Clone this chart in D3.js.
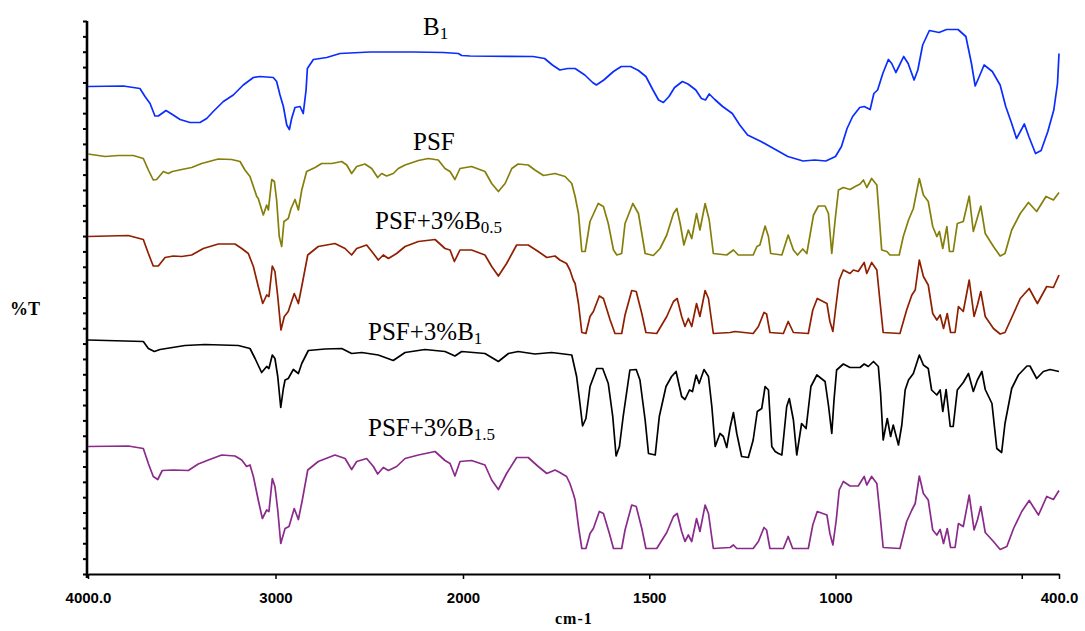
<!DOCTYPE html>
<html lang="en">
<head>
    <meta charset="UTF-8">
    <title>FTIR spectra</title>
    <script src="https://d3js.org/d3.v7.min.js"></script>
    <style>
        body {
            margin: 0;
            padding: 0;
            background-color: #ffffff;
        }

        svg {
            display: block;
        }

        .x-axis text {
            font-family: "Liberation Sans", Arial, sans-serif;
            font-size: 15px;
            font-weight: bold;
            fill: #000;
        }

        .series-label {
            font-family: "Liberation Serif", "Times New Roman", serif;
            font-size: 25px;
        }

        .axis-title {
            font-family: "Liberation Serif", "Times New Roman", serif;
            font-weight: bold;
            fill: #000;
        }
    </style>
</head>
<body>
    <div id="chart"></div>
    <script>
        // Wavenumber (cm-1) and %T values, one array per sample
        const b1Data = [[4000,97.5],[3812,97.6],[3723,97.1],[3696,95.5],[3669,94.1],[3643,91.6],[3625,91.6],[3584,92.7],[3554,92.0],[3509,90.9],[3456,90.3],[3403,90.3],[3367,91.1],[3332,92.5],[3278,94.5],[3225,95.8],[3172,97.8],[3118,99.3],[3083,99.5],[3012,99.3],[2994,98.5],[2976,95.8],[2958,93.5],[2940,89.8],[2926,88.9],[2914,91.1],[2896,93.3],[2869,93.5],[2852,92.1],[2837,96.8],[2830,101.1],[2798,102.9],[2727,103.3],[2656,104.1],[2496,104.4],[2265,104.4],[2105,104.3],[2025,104.1],[2007,103.7],[1981,103.6],[1812,103.5],[1781,103.1],[1760,101.8],[1740,100.8],[1719,101.1],[1699,101.1],[1673,99.8],[1652,98.3],[1642,97.8],[1622,98.8],[1596,100.5],[1575,101.5],[1550,101.5],[1529,100.7],[1509,99.5],[1490,96.8],[1475,94.8],[1462,94.3],[1447,95.5],[1432,97.3],[1411,98.5],[1396,98.0],[1375,96.8],[1360,95.1],[1349,94.8],[1339,96.0],[1324,94.9],[1303,93.5],[1277,92.1],[1257,89.8],[1236,87.8],[1200,86.5],[1159,84.8],[1128,83.5],[1087,82.6],[1056,82.8],[1026,82.6],[1000,83.5],[984,85.5],[969,89.1],[954,91.5],[935,93.3],[923,93.5],[907,92.9],[897,96.1],[887,96.8],[873,100.1],[858,102.9],[849,102.1],[838,100.3],[830,101.5],[817,103.5],[805,102.1],[789,98.8],[779,100.8],[766,105.8],[748,108.7],[722,108.3],[702,108.9],[671,108.9],[650,107.5],[635,102.1],[625,97.6],[614,99.5],[601,101.8],[579,100.5],[558,97.8],[543,93.5],[527,90.1],[514,87.1],[493,90.0],[481,87.5],[463,84.1],[448,84.7],[430,88.5],[414,92.8],[404,98.1],[400,104.1]];

        const psfData = [[4000,84.0],[3909,83.5],[3838,83.7],[3758,83.7],[3705,83.1],[3678,80.8],[3652,78.8],[3634,78.9],[3598,80.5],[3572,80.1],[3550,80.5],[3500,80.9],[3447,81.3],[3394,82.1],[3305,83.0],[3234,82.9],[3189,82.5],[3163,80.8],[3136,79.5],[3118,77.5],[3100,75.5],[3092,75.1],[3065,71.8],[3047,73.8],[3038,72.8],[3020,78.9],[3006,78.5],[2994,74.8],[2980,67.5],[2967,65.5],[2955,70.5],[2932,71.1],[2917,73.1],[2896,74.9],[2878,72.8],[2860,76.8],[2834,80.5],[2789,81.3],[2754,82.1],[2700,82.1],[2647,82.5],[2620,81.8],[2594,80.1],[2567,81.5],[2523,82.0],[2487,81.1],[2455,79.3],[2434,80.1],[2407,79.6],[2372,80.1],[2345,81.1],[2309,81.8],[2238,82.7],[2185,83.1],[2132,82.8],[2096,81.1],[2069,80.5],[2043,78.9],[2016,81.1],[1977,81.5],[1941,80.5],[1923,78.1],[1905,76.5],[1887,78.1],[1869,81.1],[1852,82.0],[1825,81.8],[1807,80.8],[1784,79.7],[1753,80.1],[1726,79.5],[1708,78.1],[1699,75.5],[1690,72.1],[1681,64.5],[1672,64.5],[1659,70.5],[1637,74.1],[1623,73.5],[1610,70.1],[1596,64.8],[1587,63.8],[1574,64.1],[1565,70.1],[1544,74.1],[1529,72.1],[1511,64.1],[1489,63.7],[1471,65.1],[1453,67.8],[1435,72.1],[1426,73.1],[1417,70.1],[1407,65.8],[1395,68.8],[1386,67.1],[1373,72.1],[1364,68.8],[1350,74.1],[1339,70.8],[1328,64.1],[1292,63.8],[1274,64.8],[1261,63.8],[1221,63.8],[1211,65.5],[1203,65.8],[1189,69.6],[1180,67.5],[1174,64.1],[1144,63.8],[1127,67.8],[1113,64.8],[1102,63.8],[1088,65.0],[1077,64.1],[1059,71.8],[1046,73.6],[1028,73.6],[1019,72.1],[1010,64.1],[1001,70.8],[992,76.8],[979,77.3],[961,76.9],[947,77.5],[934,78.0],[925,78.8],[916,77.3],[903,79.1],[889,77.8],[882,70.8],[876,64.8],[862,64.5],[854,63.8],[829,63.8],[818,67.5],[804,70.8],[791,73.1],[775,79.1],[764,75.8],[751,74.5],[739,69.5],[728,67.5],[721,68.5],[712,65.1],[701,69.5],[694,64.5],[684,64.5],[673,70.1],[657,70.5],[641,75.6],[630,68.5],[621,70.8],[610,73.6],[598,68.1],[576,65.5],[558,63.6],[545,64.1],[527,68.8],[504,72.1],[482,74.3],[460,72.5],[435,75.5],[415,74.8],[400,76.3]];

        const psfB05Data = [[4000,67.5],[3785,67.7],[3705,66.9],[3678,64.1],[3652,61.6],[3625,61.6],[3589,63.3],[3545,63.6],[3500,63.5],[3447,63.8],[3385,65.1],[3305,66.0],[3216,66.0],[3180,65.1],[3145,64.1],[3118,61.5],[3092,57.5],[3068,54.1],[3047,55.8],[3035,55.5],[3017,61.6],[3003,60.5],[2988,55.5],[2971,48.8],[2953,51.5],[2932,52.5],[2900,56.1],[2878,54.1],[2857,58.1],[2828,63.8],[2772,65.5],[2683,66.1],[2629,65.1],[2594,63.8],[2567,65.1],[2514,65.8],[2478,64.1],[2452,62.8],[2425,63.8],[2398,63.1],[2354,64.1],[2309,65.5],[2238,66.5],[2149,66.9],[2096,65.1],[2069,64.8],[2046,62.5],[2016,64.8],[1977,64.8],[1941,63.8],[1923,61.5],[1905,59.6],[1883,62.1],[1856,65.8],[1825,65.8],[1798,64.5],[1775,63.3],[1753,63.6],[1740,62.8],[1722,62.1],[1713,60.8],[1704,58.8],[1699,58.1],[1690,54.1],[1681,48.3],[1670,48.1],[1659,51.5],[1650,52.5],[1634,55.6],[1623,55.1],[1605,50.8],[1592,48.1],[1574,48.1],[1565,51.8],[1547,56.7],[1535,56.5],[1520,52.1],[1509,48.3],[1480,48.1],[1453,51.5],[1435,54.5],[1425,55.1],[1413,51.5],[1404,49.5],[1395,51.1],[1386,49.5],[1373,54.1],[1364,51.5],[1350,56.7],[1341,55.1],[1328,48.1],[1283,48.3],[1270,48.5],[1221,48.1],[1207,49.5],[1192,52.3],[1185,52.0],[1176,48.3],[1140,48.1],[1127,50.5],[1113,48.3],[1073,48.1],[1061,52.8],[1049,55.1],[1023,54.1],[1015,50.5],[1007,48.5],[998,54.1],[990,58.8],[979,60.8],[961,60.1],[952,60.8],[939,60.5],[923,62.3],[916,60.1],[903,62.3],[889,60.8],[880,54.1],[872,48.3],[827,48.1],[809,52.8],[795,55.8],[786,56.8],[775,62.8],[764,59.5],[751,57.8],[739,52.1],[728,50.8],[719,51.8],[710,49.1],[700,52.1],[691,48.3],[679,48.3],[670,53.5],[657,52.5],[641,58.8],[628,51.5],[619,53.8],[610,56.5],[598,51.5],[576,49.1],[558,48.0],[545,48.3],[522,52.1],[504,55.1],[480,57.1],[458,54.1],[433,57.5],[415,57.3],[400,59.8]];

        const psfB1Data = [[4000,46.8],[3705,46.5],[3678,45.1],[3646,44.5],[3616,44.9],[3483,45.7],[3376,45.9],[3198,45.7],[3136,45.1],[3109,43.1],[3074,40.3],[3047,41.5],[3035,41.1],[3017,43.8],[3003,43.1],[2988,39.5],[2972,33.3],[2958,37.1],[2949,38.8],[2932,39.1],[2905,40.9],[2878,40.1],[2860,42.1],[2825,44.7],[2736,45.0],[2647,45.1],[2594,44.1],[2540,44.3],[2452,43.8],[2372,42.7],[2309,44.3],[2203,44.9],[2096,44.5],[2043,43.6],[2007,44.5],[1941,44.1],[1905,42.5],[1878,44.1],[1852,44.5],[1807,44.0],[1762,44.3],[1740,44.1],[1708,43.8],[1695,39.5],[1686,34.1],[1679,29.6],[1670,31.1],[1659,37.5],[1641,41.1],[1625,41.1],[1610,38.1],[1598,31.5],[1589,23.6],[1580,25.5],[1570,31.5],[1552,40.8],[1535,40.9],[1525,38.8],[1511,30.8],[1502,24.1],[1484,23.8],[1473,31.5],[1455,37.5],[1440,39.5],[1428,40.5],[1413,35.5],[1404,34.9],[1392,36.8],[1384,36.5],[1374,39.8],[1366,38.1],[1353,40.9],[1341,39.5],[1332,33.5],[1323,25.5],[1310,28.1],[1301,27.5],[1292,25.3],[1283,29.3],[1274,32.3],[1265,28.1],[1252,23.5],[1234,23.3],[1221,26.8],[1210,32.5],[1198,33.1],[1189,37.5],[1180,36.8],[1171,25.5],[1162,24.5],[1153,24.1],[1144,23.8],[1131,33.5],[1124,35.1],[1113,30.8],[1104,23.8],[1091,30.1],[1079,29.1],[1066,37.5],[1050,39.8],[1028,38.5],[1019,33.8],[1010,28.1],[1004,34.8],[997,40.8],[979,42.0],[961,41.3],[934,41.3],[923,42.0],[912,41.5],[898,42.5],[885,41.5],[879,36.1],[872,26.8],[861,31.1],[852,27.5],[845,29.8],[831,25.8],[822,29.8],[813,36.8],[804,38.8],[791,40.1],[775,43.8],[764,41.8],[751,41.1],[742,36.8],[728,35.8],[719,36.8],[712,32.5],[703,36.9],[692,29.5],[684,29.5],[673,36.8],[657,38.3],[643,40.1],[630,36.5],[619,38.8],[607,40.5],[598,36.9],[580,34.1],[567,25.1],[554,24.3],[545,30.1],[527,37.1],[509,39.8],[486,41.6],[478,41.6],[460,39.1],[442,40.5],[424,40.9],[400,40.5]];

        const psfB15Data = [[4000,25.5],[3785,25.6],[3705,25.1],[3678,22.1],[3652,19.5],[3628,18.9],[3604,20.7],[3545,20.8],[3465,20.7],[3412,22.0],[3358,22.8],[3287,23.8],[3216,23.6],[3180,22.8],[3154,21.5],[3136,21.8],[3118,19.5],[3092,14.8],[3070,11.1],[3047,12.8],[3035,12.5],[3017,19.1],[3003,17.5],[2988,12.8],[2972,6.1],[2949,9.1],[2928,9.5],[2900,13.1],[2878,10.9],[2857,14.8],[2828,20.8],[2772,22.5],[2683,23.8],[2629,23.1],[2594,20.9],[2567,22.5],[2514,23.1],[2478,21.5],[2455,20.0],[2425,21.3],[2398,20.7],[2354,21.5],[2309,23.1],[2238,23.8],[2149,24.5],[2096,22.7],[2069,22.1],[2043,19.6],[2016,22.5],[1977,22.7],[1941,21.8],[1923,18.8],[1905,16.9],[1883,20.1],[1856,23.3],[1825,23.3],[1798,21.5],[1775,20.1],[1753,20.8],[1740,20.3],[1722,19.5],[1713,18.1],[1704,16.1],[1699,14.8],[1690,9.5],[1681,5.1],[1670,5.1],[1659,8.1],[1650,9.1],[1634,12.5],[1623,12.1],[1607,8.1],[1596,5.1],[1574,5.1],[1565,8.8],[1547,13.8],[1535,13.5],[1520,9.1],[1509,5.1],[1480,5.1],[1453,8.3],[1435,11.5],[1425,12.1],[1413,8.5],[1404,6.5],[1395,7.8],[1386,6.5],[1373,11.1],[1364,8.5],[1350,13.8],[1341,12.1],[1328,5.1],[1283,5.3],[1274,5.8],[1265,5.1],[1221,5.1],[1207,6.5],[1192,9.3],[1185,8.8],[1176,5.1],[1140,5.1],[1127,7.5],[1115,5.1],[1073,5.1],[1061,9.8],[1049,12.5],[1023,11.8],[1015,8.1],[1007,5.8],[998,10.8],[990,16.8],[979,18.5],[961,17.6],[939,17.6],[923,19.5],[916,17.8],[903,19.5],[889,18.1],[880,11.5],[872,5.3],[827,5.1],[809,10.5],[795,12.8],[786,14.1],[775,19.6],[764,16.1],[751,14.8],[739,8.8],[728,7.8],[719,8.9],[710,6.1],[700,9.1],[691,5.3],[679,5.3],[670,10.1],[657,9.5],[641,15.8],[628,8.8],[619,10.8],[610,13.5],[598,8.3],[576,6.5],[558,4.9],[540,5.5],[522,9.1],[500,12.5],[480,14.7],[455,11.8],[433,15.5],[415,14.9],[400,16.7]];

        const seriesNames = ["B", "PSF", "PSF+3%B", "PSF+3%B", "PSF+3%B"];
        const seriesSubs = ["1", "", "0.5", "1", "1.5"];
        const seriesColors = ["#0a2cff", "#857f0a", "#8f1f00", "#000000", "#8a2a8a"];

        const xTickValues = [4000, 3000, 2000, 1500, 1000, 500, 400];
        const xTickLabels = ["4000.0", "3000", "2000", "1500", "1000", "", "400.0"];
        const yTickCount = 36;
        const yMax = 110.6;

        const width = 1085;
        const height = 631;
        const margin = { top: 21, right: 26, bottom: 57, left: 88 };
        const plotBottom = height - margin.bottom;

        const svg = d3.select("#chart")
            .append("svg")
            .attr("width", width)
            .attr("height", height);

        // below 2000 cm-1 the axis is expanded twice
        const x = d3.scaleLinear()
            .domain([4000, 2000, 400])
            .range([margin.left, margin.left + 375, width - margin.right]);

        const y = d3.scaleLinear()
            .domain([0, yMax])
            .range([plotBottom, margin.top]);

        // x axis
        const xAxis = d3.axisBottom(x)
            .tickValues(xTickValues)
            .tickSize(5)
            .tickSizeOuter(0)
            .tickPadding(13)
            .tickFormat((d, i) => xTickLabels[i]);

        const gx = svg.append("g")
            .attr("class", "x-axis")
            .attr("transform", `translate(0,${plotBottom})`)
            .call(xAxis);
        gx.select(".domain").attr("stroke", "#000").attr("stroke-width", 2);
        gx.selectAll(".tick line").attr("stroke", "#000").attr("stroke-width", 1.5);

        // y axis, no labels
        const yAxis = d3.axisLeft(y)
            .tickValues(d3.range(yTickCount + 1).map(i => i * yMax / yTickCount))
            .tickSize(4)
            .tickSizeOuter(0)
            .tickFormat("");

        const gy = svg.append("g")
            .attr("class", "y-axis")
            .attr("transform", `translate(${margin.left - 1},0)`)
            .call(yAxis);
        gy.select(".domain")
            .attr("d", `M0,${plotBottom + 4}V${margin.top}`)
            .attr("stroke", "#000")
            .attr("stroke-width", 2.6);
        gy.selectAll(".tick line").attr("stroke", "#000").attr("stroke-width", 2);

        // axis titles
        svg.append("text")
            .attr("class", "axis-title")
            .attr("x", 555)
            .attr("y", 624)
            .style("font-size", "16px")
            .style("letter-spacing", "1px")
            .text("cm-1");

        svg.append("text")
            .attr("class", "axis-title")
            .attr("x", 10)
            .attr("y", 315)
            .style("font-size", "18px")
            .text("%T");

        // spectra
        const line = d3.line()
            .x(d => x(d[0]))
            .y(d => y(d[1]));

        const allSeries = [b1Data, psfData, psfB05Data, psfB1Data, psfB15Data];

        svg.append("g")
            .selectAll("path")
            .data(allSeries)
            .join("path")
            .attr("d", line)
            .attr("fill", "none")
            .attr("stroke", (d, i) => seriesColors[i])
            .attr("stroke-width", 1.7)
            .attr("stroke-linejoin", "round");

        // labels over each spectrum
        const labelPos = [[423, 35], [413, 150], [375, 229], [368, 340], [368, 436]];

        const labels = svg.append("g")
            .selectAll("text")
            .data(seriesNames)
            .join("text")
            .attr("class", "series-label")
            .attr("x", (d, i) => labelPos[i][0])
            .attr("y", (d, i) => labelPos[i][1])
            .attr("fill", "#000");

        labels.append("tspan").text(d => d);
        labels.append("tspan")
            .attr("dy", 4)
            .style("font-size", "17px")
            .text((d, i) => seriesSubs[i]);
    </script>
</body>
</html>
